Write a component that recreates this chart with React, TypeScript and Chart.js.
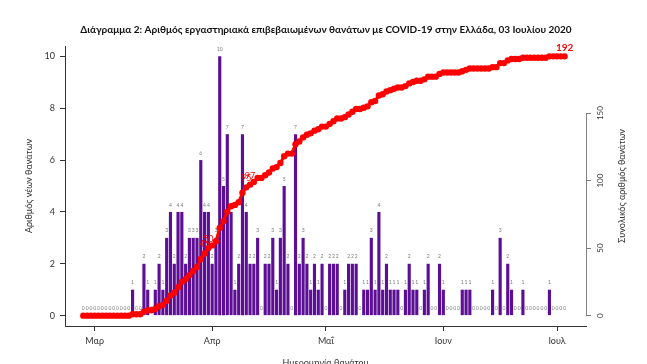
import React, { useEffect, useRef } from 'react';
import { Chart, registerables } from 'chart.js';

Chart.register(...registerables);

const TITLE = 'Διάγραμμα 2: Αριθμός εργαστηριακά επιβεβαιωμένων θανάτων με COVID-19 στην Ελλάδα, 03 Ιουλίου 2020';
const LEFT_TITLE = 'Αριθμός νέων θανάτων';
const RIGHT_TITLE = 'Συνολικός αριθμός θανάτων';
const X_TITLE = 'Ημερομηνία θανάτου';

// day index 0 = 27 Feb 2020 ... 127 = 3 Jul 2020
const dailyDeaths = [
  0, 0, 0, 0, 0, 0, 0, 0, 0, 0,
  0, 0, 0, 1, 0, 0, 2, 1, 0, 1,
  2, 1, 3, 4, 2, 4, 4, 2, 3, 3,
  3, 6, 4, 4, 2, 3, 10, 5, 7, 4,
  1, 2, 7, 4, 2, 2, 3, 0, 2, 2,
  3, 1, 3, 5, 2, 0, 7, 2, 3, 2,
  1, 2, 1, 2, 0, 2, 2, 2, 0, 1,
  2, 2, 2, 0, 1, 1, 3, 1, 4, 1,
  2, 1, 1, 1, 0, 1, 2, 1, 1, 0,
  1, 2, 0, 0, 2, 1, 0, 0, 0, 0,
  1, 1, 1, 0, 0, 0, 0, 0, 1, 0,
  3, 0, 2, 1, 0, 0, 1, 0, 0, 0,
  0, 0, 0, 1, 0, 0, 0, 0,
];

const cumulativeDeaths = [
  0, 0, 0, 0, 0, 0, 0, 0, 0, 0,
  0, 0, 0, 1, 1, 1, 3, 4, 4, 5,
  7, 8, 11, 15, 17, 21, 25, 27, 30, 33,
  36, 42, 46, 50, 52, 55, 65, 70, 77, 81,
  82, 84, 91, 95, 97, 99, 102, 102, 104, 106,
  109, 110, 113, 118, 120, 120, 127, 129, 132, 134,
  135, 137, 138, 140, 140, 142, 144, 146, 146, 147,
  149, 151, 153, 153, 154, 155, 158, 159, 163, 164,
  166, 167, 168, 169, 169, 170, 172, 173, 174, 174,
  175, 177, 177, 177, 179, 180, 180, 180, 180, 180,
  181, 182, 183, 183, 183, 183, 183, 183, 184, 184,
  187, 187, 189, 190, 190, 190, 191, 191, 191, 191,
  191, 191, 191, 192, 192, 192, 192, 192,
];

const monthTickIndex = [3, 34, 64, 95, 125];
const monthTickLabels = ['Μαρ', 'Απρ', 'Μαΐ', 'Ιουν', 'Ιουλ'];
const leftTicks = [0, 2, 4, 6, 8, 10];
const rightTicks = [0, 50, 100, 150];
const labelledPoints = [32, 33, 43, 44, 127];

const FONT = 'Lato, "Noto Sans", sans-serif';

const overlayPlugin = {
  id: 'overlay',
  afterDatasetDraw(chart: any, args: any) {
    if (args.index !== 1) return;
    const ctx = chart.ctx;
    const meta = chart.getDatasetMeta(1);
    ctx.save();
    ctx.font = '5px ' + FONT;
    ctx.fillStyle = '#7a7a7a';
    ctx.textAlign = 'center';
    ctx.textBaseline = 'middle';
    meta.data.forEach((el: any, i: number) => {
      ctx.fillText(String(dailyDeaths[i]), el.x, el.y - 7);
    });
    ctx.restore();
  },
  afterDraw(chart: any) {
    const ctx = chart.ctx;
    const area = chart.chartArea;
    const y2 = chart.scales.y2;
    ctx.save();
    // title
    ctx.fillStyle = '#111';
    ctx.font = 'bold 10px ' + FONT;
    ctx.textAlign = 'center';
    ctx.textBaseline = 'middle';
    ctx.fillText(TITLE, 326, 30);

    // axis titles
    ctx.font = '9px ' + FONT;
    ctx.fillStyle = '#333';
    ctx.save();
    ctx.translate(29, (area.top + area.bottom) / 2);
    ctx.rotate(-Math.PI / 2);
    ctx.fillText(LEFT_TITLE, 0, 0);
    ctx.restore();
    ctx.save();
    ctx.translate(622, (area.top + area.bottom) / 2);
    ctx.rotate(-Math.PI / 2);
    ctx.fillText(RIGHT_TITLE, 0, 0);
    ctx.restore();
    ctx.fillText(X_TITLE, (area.left + area.right) / 2, 363);

    // right axis line and labels
    const r = area.right;
    ctx.strokeStyle = '#808080';
    ctx.lineWidth = 1;
    ctx.beginPath();
    ctx.moveTo(r + 0.5, y2.getPixelForValue(rightTicks[0]));
    ctx.lineTo(r + 0.5, y2.getPixelForValue(rightTicks[rightTicks.length - 1]));
    ctx.stroke();
    ctx.font = '8px ' + FONT;
    ctx.fillStyle = '#333';
    rightTicks.forEach((v) => {
      ctx.save();
      ctx.translate(600, y2.getPixelForValue(v));
      ctx.rotate(-Math.PI / 2);
      ctx.fillText(String(v), 0, 0);
      ctx.restore();
    });

    // cumulative labels
    const lineMeta = chart.getDatasetMeta(0);
    ctx.fillStyle = '#ff0000';
    labelledPoints.forEach((idx) => {
      const el = lineMeta.data[idx];
      const last = idx === labelledPoints[labelledPoints.length - 1];
      ctx.font = (last ? 'bold 10px ' : '9px ') + FONT;
      ctx.fillText(String(cumulativeDeaths[idx]), el.x, el.y - 9);
    });
    ctx.restore();
  },
};

export default function App() {
  const ref = useRef<HTMLCanvasElement>(null);
  useEffect(() => {
    document.body.style.margin = '0';
    const canvas = ref.current!;
    const chart = new Chart(canvas, {
      type: 'bar',
      data: {
        datasets: [
          {
            type: 'line',
            label: 'cumulative',
            data: cumulativeDeaths.map((v, i) => ({ x: i, y: v })),
            xAxisID: 'x',
            yAxisID: 'y2',
            borderColor: '#ff0000',
            borderWidth: 3,
            pointRadius: 3.2,
            pointBackgroundColor: '#ff0000',
            pointBorderWidth: 0,
            tension: 0,
            order: 0,
          } as any,
          {
            type: 'bar',
            label: 'daily',
            data: dailyDeaths.map((v, i) => ({ x: i, y: v })),
            xAxisID: 'x',
            yAxisID: 'y',
            backgroundColor: '#5c0f94',
            barPercentage: 0.83,
            categoryPercentage: 1,
            order: 1,
          } as any,
        ],
      },
      options: {
        animation: false,
        responsive: false,
        layout: { padding: { top: 46, left: 0, right: 0, bottom: 0 } },
        plugins: { legend: { display: false }, tooltip: { enabled: false }, title: { display: false } },
        scales: {
          x: {
            type: 'linear',
            offset: false,
            min: -4.83,
            max: 132.65,
            afterBuildTicks: (s: any) => {
              s.ticks = monthTickIndex.map((v) => ({ value: v }));
            },
            afterFit: (s: any) => {
              s.height = 38;
            },
            ticks: {
              autoSkip: false,
              maxRotation: 0,
              minRotation: 0,
              padding: 5,
              color: '#333',
              font: { family: FONT, size: 9 },
              callback: (v: any) => {
                const k = monthTickIndex.indexOf(Number(v));
                return k >= 0 ? monthTickLabels[k] : '';
              },
            },
            grid: { display: true, drawOnChartArea: false, drawTicks: true, tickLength: 5, color: '#333', offset: false },
            border: { display: true, color: '#333', width: 1 },
          },
          y: {
            type: 'linear',
            position: 'left',
            min: -0.4,
            max: 10.4,
            afterBuildTicks: (s: any) => {
              s.ticks = leftTicks.map((v) => ({ value: v }));
            },
            afterFit: (s: any) => {
              s.width = 65;
            },
            ticks: { padding: 5, color: '#333', font: { family: FONT, size: 9 } },
            grid: { display: true, drawOnChartArea: false, drawTicks: true, tickLength: 5, color: '#333' },
            border: { display: true, color: '#333', width: 1 },
          },
          y2: {
            type: 'linear',
            position: 'right',
            min: -7.68,
            max: 199.68,
            afterBuildTicks: (s: any) => {
              s.ticks = rightTicks.map((v) => ({ value: v }));
            },
            afterFit: (s: any) => {
              s.width = 61;
            },
            ticks: { display: false },
            grid: { display: true, drawOnChartArea: false, drawTicks: true, tickLength: 5, color: '#808080' },
            border: { display: false },
          },
        },
      } as any,
      plugins: [overlayPlugin],
    });
    return () => chart.destroy();
  }, []);
  return <canvas ref={ref} width={647} height={364} style={{ display: 'block' }} />;
}
